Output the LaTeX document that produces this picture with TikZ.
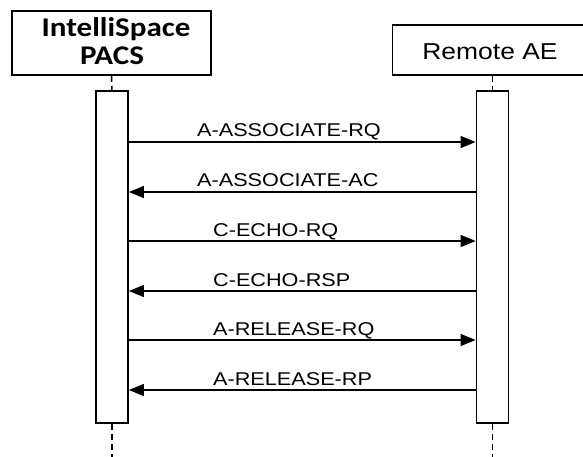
\documentclass[tikz,border=0pt]{standalone}
\usepackage{fontspec}
\setmainfont{Liberation Sans}
\newfontfamily\lblfont[FakeStretch=1.17]{Liberation Sans}
\newfontfamily\aefont[FakeStretch=1.15]{Liberation Sans}
\newfontfamily\hdfont[FakeStretch=1.15]{Carlito}
\usetikzlibrary{arrows.meta}
\begin{document}
\begin{tikzpicture}[x=1pt,y=-1pt,
  box/.style={draw, line width=1.8pt, fill=white, inner sep=0pt},
  bar/.style={draw, line width=1.8pt, fill=white, minimum width=32pt, minimum height=332pt, inner sep=0pt},
  msg/.style={line width=1.5pt, -{Triangle[length=15pt,width=12pt]}},
  lbl/.style={anchor=base west, inner sep=0pt, font=\lblfont\fontsize{18.5}{20}\selectfont},
  life/.style={line width=1.5pt, dash pattern=on 6pt off 4pt}]
\useasboundingbox (0,0) rectangle (583,456);
\clip (0,0) rectangle (583,456);
\fill[white] (0,0) rectangle (583,456);
% lifelines
\coordinate (Lend) at (112,460);
\coordinate (Rend) at (492.5,460);
\node[box, minimum width=199pt, minimum height=64pt] (L) at (111.5,43) {};
\node[box, minimum width=200pt, minimum height=50pt] (R) at (492.5,50) {};
\node[bar] (Lb) at (112,257) {};
\node[bar] (Rb) at (492.5,257) {};
\draw[life] (L.south) -- (Lb.north);
\draw[life] (R.south) -- (Rb.north);
\draw[life] (Lb.south) -- (Lend);
\draw[life] (Rb.south) -- (Rend);
% box texts
\node[anchor=base, inner sep=0pt, font=\hdfont\bfseries\fontsize{27}{28}\selectfont] (Lt1) at (116,36) {IntelliSpace};
\node[anchor=base, inner sep=0pt, font=\hdfont\bfseries\fontsize{27}{28}\selectfont] (Lt2) at (112,64) {PACS};
\node[anchor=base, inner sep=0pt, font=\aefont\fontsize{23}{25}\selectfont] (Rt) at (490,59) {Remote AE};
% messages
\foreach \n/\y in {1/142,2/192,3/241,4/291,5/340,6/390}{
  \coordinate (m\n) at (300,\y);
}
\draw[msg] (Lb.east |- m1) -- (Rb.west |- m1);
\draw[msg] (Rb.west |- m2) -- (Lb.east |- m2);
\draw[msg] (Lb.east |- m3) -- (Rb.west |- m3);
\draw[msg] (Rb.west |- m4) -- (Lb.east |- m4);
\draw[msg] (Lb.east |- m5) -- (Rb.west |- m5);
\draw[msg] (Rb.west |- m6) -- (Lb.east |- m6);
\node[lbl] (t1) at (197,136.5) {A-ASSOCIATE-RQ};
\node[lbl] (t2) at (197,186.5) {A-ASSOCIATE-AC};
\node[lbl] (t3) at (213,236) {C-ECHO-RQ};
\node[lbl] (t4) at (213,286) {C-ECHO-RSP};
\node[lbl] (t5) at (213,335) {A-RELEASE-RQ};
\node[lbl] (t6) at (213,385) {A-RELEASE-RP};
\end{tikzpicture}
\end{document}
